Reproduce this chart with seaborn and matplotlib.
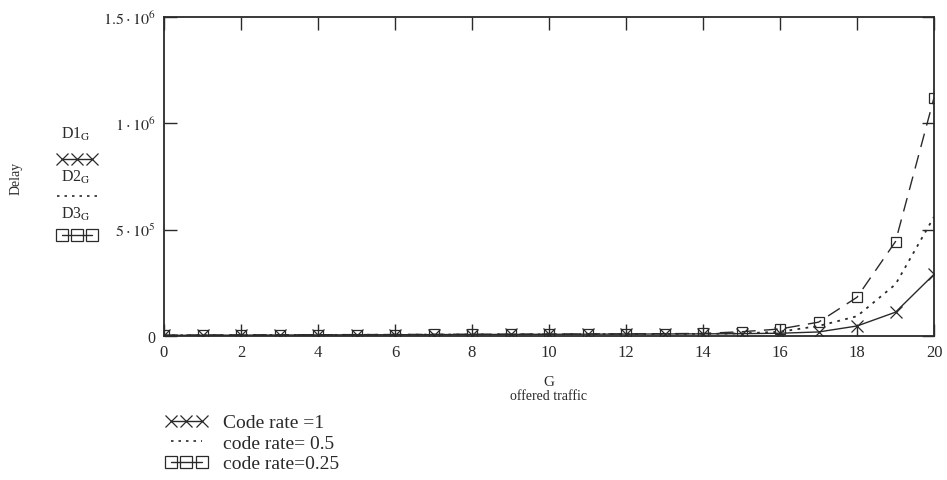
import numpy as np
import pandas as pd
import seaborn as sns
import matplotlib
matplotlib.use("Agg")
import matplotlib.pyplot as plt
from matplotlib.lines import Line2D

# ---- data ----
G = list(range(0, 21))
d1 = [3000, 3500, 4000, 4500, 5000, 5500, 6000, 6500, 7000, 7500, 8000,
      8500, 9000, 9500, 10000, 11000, 13000, 19000, 47000, 112000, 290000]
d2 = [3000, 3500, 4000, 4500, 5000, 5500, 6000, 6500, 7000, 7500, 8000,
      8500, 9000, 9500, 10000, 12000, 20000, 47000, 93000, 243000, 560000]
d3 = [4000, 4500, 5000, 5500, 6000, 6500, 7000, 7500, 8000, 8500, 9000,
      9500, 10000, 11000, 12000, 20000, 33000, 65000, 182000, 444000, 1120000]
series_labels = ["Code rate =1", "code rate= 0.5", "code rate=0.25"]
left_labels = ["D1", "D2", "D3"]
ytick_vals = [0, 5e5, 1e6, 1.5e6]
ytick_labels = ["0", r"$5\cdot10^{5}$", r"$1\cdot10^{6}$", r"$1.5\cdot10^{6}$"]
xtick_vals = list(range(0, 21, 2))

sns.set_style("ticks")
plt.rcParams["font.family"] = ["Liberation Serif", "DejaVu Serif"]
plt.rcParams["mathtext.fontset"] = "stix"

C = "#2a2a2a"
W, H = 947, 481
fig = plt.figure(figsize=(W / 100, H / 100), dpi=100)
ax = fig.add_axes([164 / W, 1 - 337 / H, (934 - 164) / W, (337 - 18) / H])

df = pd.DataFrame({"G": G, "d1": d1, "d2": d2, "d3": d3})
sns.lineplot(data=df, x="G", y="d1", ax=ax, color=C, lw=1.0, marker="x",
             markersize=8, markeredgewidth=0.9, markeredgecolor=C)
sns.lineplot(data=df, x="G", y="d2", ax=ax, color=C, lw=1.3, linestyle=(0, (1.5, 3)))
sns.lineplot(data=df, x="G", y="d3", ax=ax, color=C, lw=1.0, linestyle=(0, (10, 6)),
             marker="s", markersize=7, markerfacecolor="none",
             markeredgewidth=0.9, markeredgecolor=C)

ax.set_xlim(0, 20)
ax.set_ylim(0, 1.5e6)
ax.set_xticks(xtick_vals)
ax.set_xticklabels([str(v) for v in xtick_vals], fontsize=12, color=C)
ax.set_yticks(ytick_vals)
ax.set_yticklabels(ytick_labels, fontsize=11.5, color=C)
ax.tick_params(direction="in", top=True, right=True, length=9, width=1.0, color=C,
               pad=6)
for s in ax.spines.values():
    s.set_color(C)
    s.set_linewidth(1.3)
ax.set_xlabel("")
ax.set_ylabel("")

fig.text(549 / W, 1 - 382 / H, "G", ha="center", va="center", fontsize=11, color=C)
fig.text(549 / W, 1 - 396 / H, "offered traffic", ha="center", va="center",
         fontsize=10, color=C)
fig.text(16 / W, 1 - 178 / H, "Delay", rotation=90, ha="center", va="center",
         fontsize=10, color=C)

# left key
ys_text = [134, 177, 214]
for lab, yt in zip(left_labels, ys_text):
    fig.text(76 / W, 1 - yt / H, lab + r"$_{\mathrm{G}}$", ha="center", va="center",
             fontsize=11.5, color=C)
xs = np.array([62, 77, 92]) / W
fig.add_artist(Line2D(xs, [1 - 160 / H] * 3, color=C, lw=1, marker="x",
                      markersize=8, markeredgewidth=0.9))
fig.add_artist(Line2D([57 / W, 97 / W], [1 - 197 / H] * 2, color=C, lw=1.2,
                      linestyle=(0, (1.5, 3))))
fig.add_artist(Line2D(xs, [1 - 236 / H] * 3, color=C, lw=1, marker="s",
                      markersize=8, markerfacecolor="none", markeredgewidth=0.9))

# bottom legend
handles = [
    Line2D([], [], color=C, lw=1, marker="x", markersize=8, markeredgewidth=0.9),
    Line2D([], [], color=C, lw=1.2, linestyle=(0, (1.5, 3))),
    Line2D([], [], color=C, lw=1, marker="s", markersize=8, markerfacecolor="none",
           markeredgewidth=0.9),
]
fig.legend(handles, series_labels, loc="upper left",
           bbox_to_anchor=(157 / W, 1 - 407 / H), frameon=False, fontsize=14,
           handlelength=2.2, labelspacing=0.15, handletextpad=0.8,
           borderaxespad=0, markerfirst=True, numpoints=3, labelcolor=C)

fig.savefig("out.png", dpi=100)
